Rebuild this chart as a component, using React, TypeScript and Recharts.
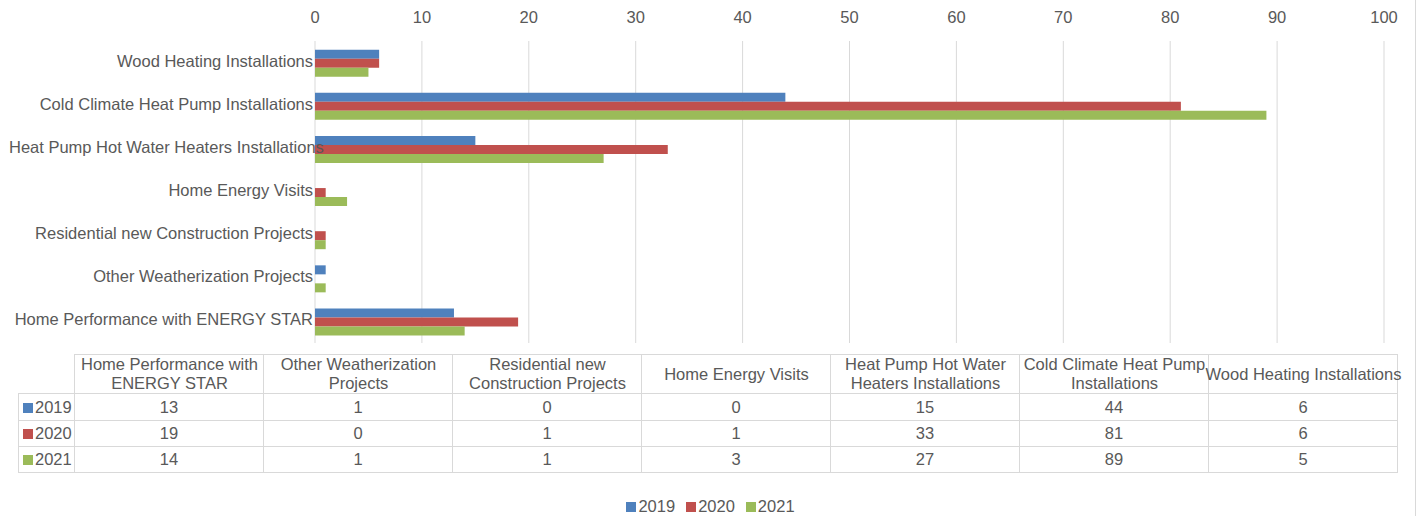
import React from 'react';
import { BarChart, Bar, XAxis, YAxis, CartesianGrid } from 'recharts';

// categories in table order (chart draws them bottom-up)
const categories = [
  'Home Performance with ENERGY STAR',
  'Other Weatherization Projects',
  'Residential new Construction Projects',
  'Home Energy Visits',
  'Heat Pump Hot Water Heaters Installations',
  'Cold Climate Heat Pump Installations',
  'Wood Heating Installations',
];
const values2019 = [13, 1, 0, 0, 15, 44, 6];
const values2020 = [19, 0, 1, 1, 33, 81, 6];
const values2021 = [14, 1, 1, 3, 27, 89, 5];
const xTicks = [0, 10, 20, 30, 40, 50, 60, 70, 80, 90, 100];

const series = [
  { key: '2019', color: '#4F81BD', values: values2019 },
  { key: '2020', color: '#C0504D', values: values2020 },
  { key: '2021', color: '#9BBB59', values: values2021 },
];

const data = categories.map((name, i) => {
  const row: any = { name };
  series.forEach((s) => { row[s.key] = s.values[i]; });
  return row;
});

const TEXT = '#595959';
const GRID = '#d9d9d9';
const FONT = '"Liberation Sans", Arial, Helvetica, sans-serif';
const FS = 16.5;

let ctx: CanvasRenderingContext2D | null = null;
const textWidth = (s: string) => {
  if (!ctx) ctx = document.createElement('canvas').getContext('2d');
  if (!ctx) return 0;
  ctx.font = `${FS}px ${FONT}`;
  return ctx.measureText(s).width;
};

// long labels spill into the plot instead of being cut at the left edge
const CategoryTick = ({ x, y, payload }: any) => {
  const end = Math.max(x, 9 + textWidth(payload.value));
  return (
    <text x={end} y={y} dy={4} textAnchor="end" fill={TEXT} fontSize={FS} fontFamily={FONT}>
      {payload.value}
    </text>
  );
};

const COL_W = 189;
const border = `1px solid ${GRID}`;

const DataTable = () => (
  <table
    style={{
      position: 'absolute', left: 18, top: 354, borderCollapse: 'collapse', tableLayout: 'fixed',
      width: 56 + COL_W * categories.length, fontSize: FS, color: TEXT, fontFamily: FONT,
    }}
  >
    <colgroup>
      <col style={{ width: 56 }} />
      {categories.map((c) => <col key={c} style={{ width: COL_W }} />)}
    </colgroup>
    <tbody>
      <tr style={{ height: 39 }}>
        <td style={{ borderRight: border, borderBottom: border, padding: 0 }} />
        {categories.map((c) => (
          <td key={c} style={{ border, padding: 0, verticalAlign: 'middle' }}>
            <div style={{ width: 206, marginLeft: (COL_W - 206) / 2, textAlign: 'center', lineHeight: '19px' }}>{c}</div>
          </td>
        ))}
      </tr>
      {series.map((s, r) => (
        <tr key={s.key} style={{ height: r === 0 ? 27 : 26 }}>
          <td style={{ border, padding: 0, whiteSpace: 'nowrap', lineHeight: '19px' }}>
            <span style={{ display: 'inline-block', width: 10, height: 10, background: s.color, marginLeft: 4, marginRight: 2 }} />
            {s.key}
          </td>
          {s.values.map((v, i) => (
            <td key={i} style={{ border, padding: 0, textAlign: 'center', lineHeight: '19px' }}>{v}</td>
          ))}
        </tr>
      ))}
    </tbody>
  </table>
);

const LegendRow = () => (
  <div
    style={{
      position: 'absolute', left: 0, top: 497, width: 1421, display: 'flex', justifyContent: 'center',
      fontSize: FS, color: TEXT, fontFamily: FONT, lineHeight: '19px', gap: 11,
    }}
  >
    {series.map((s) => (
      <span key={s.key} style={{ display: 'flex', alignItems: 'center' }}>
        <span style={{ display: 'inline-block', width: 10, height: 10, background: s.color, marginRight: 2 }} />
        {s.key}
      </span>
    ))}
  </div>
);

export default function App() {
  return (
    <div style={{ position: 'relative', width: 1421, height: 516, background: '#fff', fontFamily: FONT }}>
      <style>{'body{margin:0}'}</style>
      <BarChart
        width={1421}
        height={345}
        data={data}
        layout="vertical"
        margin={{ top: 0, right: 37, left: 0, bottom: 2 }}
        barCategoryGap="20%"
        barGap={0}
      >
        <CartesianGrid horizontal={false} stroke={GRID} />
        <XAxis
          type="number"
          orientation="top"
          domain={[0, 100]}
          ticks={xTicks}
          height={41}
          axisLine={false}
          tickLine={false}
          tickSize={0}
          tickMargin={18}
          tick={{ fill: TEXT, fontSize: FS, fontFamily: FONT }}
        />
        <YAxis
          type="category"
          dataKey="name"
          reversed
          width={315}
          axisLine={false}
          tickLine={false}
          tickSize={0}
          tickMargin={2}
          interval={0}
          tick={<CategoryTick />}
        />
        {series.map((s) => (
          <Bar key={s.key} dataKey={s.key} fill={s.color} isAnimationActive={false} />
        ))}
      </BarChart>
      <DataTable />
      <LegendRow />
      <div style={{ position: 'absolute', left: 1415, top: 0, width: 1, height: 516, background: GRID }} />
    </div>
  );
}
